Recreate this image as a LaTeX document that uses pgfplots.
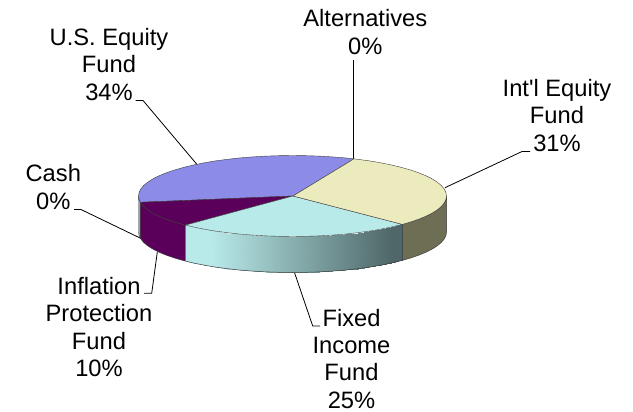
\documentclass[border=0pt]{standalone}
\usepackage{pgfplots}
\pgfplotsset{compat=1.18}
\usepackage{fontspec}
\setmainfont{Liberation Sans}[Ligatures=TeXOff]
\definecolor{cBlue}{HTML}{8C8CE8}
\definecolor{cBlueSide}{HTML}{9C9CDC}
\definecolor{cYellow}{HTML}{ECEBBD}
\definecolor{cYellowSide}{HTML}{6E6E55}
\definecolor{cCyan}{HTML}{B9EAEA}
\definecolor{cCyanDark}{HTML}{4F6768}
\definecolor{cPurple}{HTML}{5A005A}
\definecolor{cEdge}{HTML}{3C3C3C}
\newcommand{\lbl}[3]{\node[anchor=base,inner sep=0pt,font=\fontsize{23.7}{27.7}\selectfont] at (axis cs:#1,#2) {#3};}
\begin{document}
\begin{tikzpicture}
\useasboundingbox (0,0) rectangle (633pt,412pt);
\begin{axis}[
  at={(0,0)},anchor=south west,
  scale only axis,width=633pt,height=412pt,
  xmin=0,xmax=633,ymin=0,ymax=412,y dir=reverse,
  hide axis,clip=false,
  colormap={cyanside}{color(0)=(cCyan) color(0.12)=(cCyan) color(1)=(cCyanDark)},
  point meta min=186,point meta max=392,
]
% leader lines
\addplot[black,line width=0.8pt,forget plot] coordinates {(135.5,100.5)(143,100.5)(197,164.5)};
\addplot[black,line width=0.8pt,forget plot] coordinates {(74,209.5)(81,209.5)(140,238)};
\addplot[black,line width=0.8pt,forget plot] coordinates {(353.5,60)(353.5,159)};
\addplot[black,line width=0.8pt,forget plot] coordinates {(530,151.5)(522,151.5)(445,187.7)};
\addplot[black,line width=0.8pt,forget plot] coordinates {(144,293.3)(151.7,293.3)(157.3,252)};
\addplot[black,line width=0.8pt,forget plot] coordinates {(320,326)(312.7,326)(294.3,272)};
% side: blue sliver
\addplot[fill=cBlueSide,draw=cEdge,line width=0.4pt,forget plot] coordinates {(138.5,196)(139.1,199.5)(140.4,202.3)(140.4,238.3)(139.1,235.5)(138.5,232)} -- cycle;
% side: purple
\addplot[fill=cPurple,draw=cEdge,line width=0.5pt,forget plot] coordinates {(140.4,202.3)(140.8,203)(143.7,206.5)(147.8,209.9)(152.9,213.1)(159.1,216.25)(166.3,219.2)(174.5,222)(183.6,224.6)(185.5,225.1)(185.5,261.1)(183.6,260.6)(174.5,258)(166.3,255.2)(159.1,252.25)(152.9,249.1)(147.8,245.9)(143.7,242.5)(140.8,239)(140.4,238.3)} -- cycle;
% side: yellow
\addplot[fill=cYellowSide,draw=cEdge,line width=0.5pt,forget plot] coordinates {(402.4,224.4)(410.5,222)(418.7,219.2)(425.9,216.25)(432.1,213.1)(437.2,209.9)(441.3,206.5)(444.2,203)(445.9,199.5)(446.5,196)(446.5,232)(445.9,235.5)(444.2,239)(441.3,242.5)(437.2,245.9)(432.1,249.1)(425.9,252.25)(418.7,255.2)(410.5,258)(402.4,260.4)} -- cycle;
% side: cyan gradient
\addplot[patch,patch type=rectangle,shader=interp,point meta=x,forget plot] coordinates {
(185.5,225.1)(193.5,227)(193.5,263)(185.5,261.1)
(193.5,227)(204.2,229.2)(204.2,265.2)(193.5,263)
(204.2,229.2)(215.5,231.1)(215.5,267.1)(204.2,265.2)
(215.5,231.1)(227.4,232.7)(227.4,268.7)(215.5,267.1)
(227.4,232.7)(239.8,234.1)(239.8,270.1)(227.4,268.7)
(239.8,234.1)(252.6,235.1)(252.6,271.1)(239.8,270.1)
(252.6,235.1)(265.8,235.9)(265.8,271.9)(252.6,271.1)
(265.8,235.9)(279.1,236.3)(279.1,272.3)(265.8,271.9)
(279.1,236.3)(292.5,236.5)(292.5,272.5)(279.1,272.3)
(292.5,236.5)(305.9,236.3)(305.9,272.3)(292.5,272.5)
(305.9,236.3)(319.2,235.9)(319.2,271.9)(305.9,272.3)
(319.2,235.9)(332.4,235.1)(332.4,271.1)(319.2,271.9)
(332.4,235.1)(345.2,234.1)(345.2,270.1)(332.4,271.1)
(345.2,234.1)(357.6,232.7)(357.6,268.7)(345.2,270.1)
(357.6,232.7)(369.5,231.1)(369.5,267.1)(357.6,268.7)
(369.5,231.1)(380.8,229.2)(380.8,265.2)(369.5,267.1)
(380.8,229.2)(391.5,227)(391.5,263)(380.8,265.2)
(391.5,227)(402.4,224.4)(402.4,260.4)(391.5,263)
};
\addplot[draw=cEdge,line width=0.5pt,forget plot] coordinates {(185.5,225.1)(185.5,261.1)(193.5,263)(204.2,265.2)(215.5,267.1)(227.4,268.7)(239.8,270.1)(252.6,271.1)(265.8,271.9)(279.1,272.3)(292.5,272.5)(305.9,272.3)(319.2,271.9)(332.4,271.1)(345.2,270.1)(357.6,268.7)(369.5,267.1)(380.8,265.2)(391.5,263)(402.4,260.4)(402.4,224.4)};
% top: blue 34%
\addplot[fill=cBlue,draw=cEdge,line width=0.4pt,forget plot] coordinates {(293,196)(353.9,158.9)(345.2,157.9)(332.4,156.9)(319.2,156.1)(305.9,155.7)(292.5,155.5)(279.1,155.7)(265.8,156.1)(252.6,156.9)(239.8,157.9)(227.4,159.3)(215.5,160.9)(204.2,162.8)(193.5,165)(183.6,167.4)(174.5,170)(166.3,172.8)(159.1,175.75)(152.9,178.9)(147.8,182.1)(143.7,185.5)(140.8,189)(139.1,192.5)(138.5,196)(139.1,199.5)(140.4,202.3)} -- cycle;
% top: purple 10%
\addplot[fill=cPurple,draw=cEdge,line width=0.4pt,forget plot] coordinates {(293,196)(140.4,202.3)(140.8,203)(143.7,206.5)(147.8,209.9)(152.9,213.1)(159.1,216.25)(166.3,219.2)(174.5,222)(183.6,224.6)(185.5,225.1)} -- cycle;
% top: cyan 25%
\addplot[fill=cCyan,draw=cEdge,line width=0.4pt,forget plot] coordinates {(293,196)(185.5,225.1)(193.5,227)(204.2,229.2)(215.5,231.1)(227.4,232.7)(239.8,234.1)(252.6,235.1)(265.8,235.9)(279.1,236.3)(292.5,236.5)(305.9,236.3)(319.2,235.9)(332.4,235.1)(345.2,234.1)(357.6,232.7)(369.5,231.1)(380.8,229.2)(391.5,227)(402.4,224.4)} -- cycle;
% top: yellow 31%
\addplot[fill=cYellow,draw=cEdge,line width=0.4pt,forget plot] coordinates {(293,196)(402.4,224.4)(410.5,222)(418.7,219.2)(425.9,216.25)(432.1,213.1)(437.2,209.9)(441.3,206.5)(444.2,203)(445.9,199.5)(446.5,196)(445.9,192.5)(444.2,189)(441.3,185.5)(437.2,182.1)(432.1,178.9)(425.9,175.75)(418.7,172.8)(410.5,170)(401.4,167.4)(391.5,165)(380.8,162.8)(369.5,160.9)(357.6,159.3)(353.9,158.9)} -- cycle;
% labels
\lbl{365.3}{26.7}{Alternatives}
\lbl{365.3}{54.3}{0\%}
\lbl{109}{45.7}{U.S. Equity}
\lbl{109}{73}{Fund}
\lbl{109}{101}{34\%}
\lbl{557}{96.7}{Int'l Equity}
\lbl{557}{124}{Fund}
\lbl{557}{152}{31\%}
\lbl{53.3}{181.7}{Cash}
\lbl{53.3}{209.3}{0\%}
\lbl{99}{294}{Inflation}
\lbl{99}{321.7}{Protection}
\lbl{99}{349}{Fund}
\lbl{99}{376.7}{10\%}
\lbl{351.5}{326}{Fixed}
\lbl{351.5}{353.3}{Income}
\lbl{351.5}{380.7}{Fund}
\lbl{351.5}{408.3}{25\%}
\end{axis}
\end{tikzpicture}
\end{document}
